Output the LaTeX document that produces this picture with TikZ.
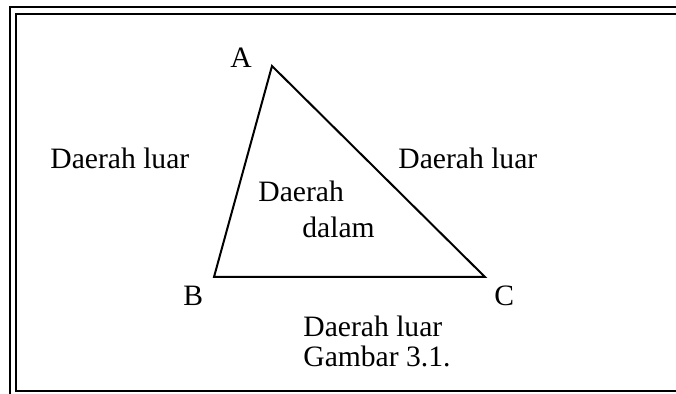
\documentclass[tikz,border=0pt]{standalone}
\usepackage{fontspec}
\setmainfont{Liberation Serif}
\usetikzlibrary{positioning}
\tikzset{
  lbl/.style={font=\fontsize{14.8}{17}\selectfont,inner sep=0pt,anchor=west},
  rim/.style={line width=1.3pt,line cap=rect},
  edge/.style={line width=1pt,line join=miter},
}
\begin{document}
\begin{tikzpicture}[x=0.5pt,y=-0.5pt]
  \useasboundingbox (0,0) rectangle (676,394);

  % frame (double line, cut at the right)
  \coordinate (o1) at (10,394);
  \coordinate (o2) at (10,7);
  \coordinate (o3) at (676,7);
  \coordinate (i1) at (16,14);
  \coordinate (i2) at (16,391);
  \coordinate (i3) at (676,391);
  \coordinate (i4) at (676,14);
  \draw[rim] (o1) -- (o2) -- (o3);
  \draw[rim] (i4) -- (i1) -- (i2) -- (i3);

  % triangle
  \coordinate (a) at (272,66);
  \coordinate (b) at (214,277);
  \coordinate (c) at (485,277);
  \draw[edge] (a) -- (b) -- (c) -- cycle;

  \node[lbl] (la) at (230,58)  {A};
  \node[lbl] (lb) at (183,296) {B};
  \node[lbl] (lc) at (494,296) {C};

  \node[lbl] (outl) at (50,158)  {Daerah luar};
  \node[lbl] (outr) at (398,158) {Daerah luar};
  \node[lbl] (outb) at (303,326) {Daerah luar};
  \node[lbl] (cap)  at (303,356) {Gambar 3.1.};
  \node[lbl] (in1)  at (258,191) {Daerah};
  \node[lbl] (in2)  at (302,227) {dalam};
\end{tikzpicture}
\end{document}
